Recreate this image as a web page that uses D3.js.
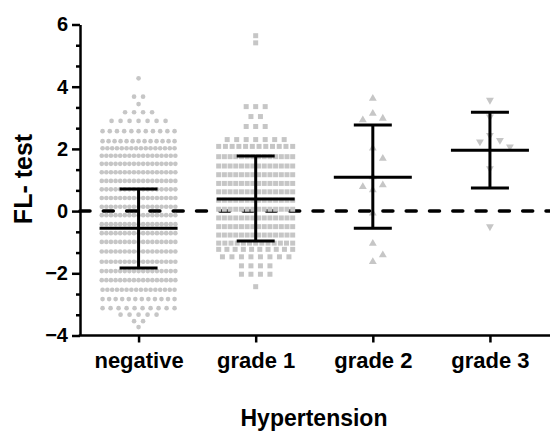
<!DOCTYPE html>
<html>
<head>
<meta charset="utf-8">
<script src="https://cdn.jsdelivr.net/npm/d3@7"></script>
<style>
body { margin: 0; background: #fff; }
svg { display: block; font-family: "Liberation Sans", Arial, sans-serif; }
</style>
</head>
<body>
<svg id="chart" width="550" height="432"></svg>
<script>
var categories = ['negative', 'grade 1', 'grade 2', 'grade 3'];

// big groups: value of the band, dots in it
var negRowValues = [4.27, 3.68, 3.44, 3.18, 2.9, 2.57, 2.25, 2.02, 1.78, 1.52, 1.25, 0.97, 0.7, 0.42, 0.14,
                    -0.13, -0.42, -0.71, -0.99, -1.3, -1.63, -1.93, -2.22, -2.53, -2.83, -3.12, -3.33, -3.54, -3.73];
var negRowCounts = [1, 2, 1, 4, 7, 11, 13, 16, 17, 17, 17, 17, 17, 17, 17,
                    17, 17, 17, 17, 17, 17, 17, 17, 16, 12, 10, 5, 2, 1];

var g1RowValues = [5.64, 5.41, 3.36, 3.04, 2.72, 2.3, 2.08, 1.75, 1.45, 1.17, 0.89, 0.62, 0.35, 0.06,
                   -0.22, -0.5, -0.77, -1.03, -1.23, -1.47, -1.76, -2.03, -2.43];
var g1RowCounts = [1, 1, 3, 2, 3, 7, 12, 14, 14, 14, 14, 14, 14, 14,
                   14, 14, 14, 13, 10, 8, 4, 4, 1];

// small groups, one value per point
var g2Values = [3.62, 3.14, 2.98, 2.93, 2.02, 1.69, 1.1, 0.78, 0.68, 0.84, -0.07, -1.04, -1.41, -1.63];
var g3Values = [3.57, 3.03, 2.44, 2.28, 2.23, 2.07, 1.37, -0.5];

// mean and SD as drawn
var means = [-0.55, 0.39, 1.09, 1.96];
var sdLow = [-1.83, -0.96, -0.55, 0.74];
var sdHigh = [0.71, 1.77, 2.77, 3.18];

var yTicks = [-4, -2, 0, 2, 4, 6];
var yMinorTicks = [-10 / 3, -8 / 3, -4 / 3, -2 / 3, 2 / 3, 4 / 3, 8 / 3, 10 / 3, 14 / 3, 16 / 3];

var svg = d3.select('#chart');
var x = d3.scalePoint().domain(categories).range([80, 548.5]).padding(0.5);
var y = d3.scaleLinear().domain([-4, 6]).range([335.5, 24.5]);
var grey = '#c6c6c6';

function rowPoints(vals, counts, minStep, maxStep, maxWidth) {
  var pts = [];
  vals.forEach(function(v, i) {
    var n = counts[i];
    var step = n > 1 ? Math.max(minStep, Math.min(maxStep, maxWidth / (n - 1))) : 0;
    for (var k = 0; k < n; k++) pts.push({ v: v, dx: (k - (n - 1) / 2) * step });
  });
  return pts;
}

function dodgePoints(vals, step, gapY) {
  var placed = [];
  vals.slice().sort(d3.descending).forEach(function(v) {
    for (var k = 0; k < 50; k++) {
      var dx = k === 0 ? 0 : (k % 2 ? 1 : -1) * Math.ceil(k / 2) * step;
      var hit = placed.some(p => Math.abs(p.dx - dx) < step * 0.9 && Math.abs(y(p.v) - y(v)) < gapY);
      if (!hit) { placed.push({ v: v, dx: dx }); break; }
    }
  });
  return placed;
}

// dashed zero line sits under the dots
svg.append('line')
   .attr('x1', 80).attr('x2', 550)
   .attr('y1', y(0)).attr('y2', y(0))
   .attr('stroke', '#000').attr('stroke-width', 3.5)
   .attr('stroke-linecap', 'round')
   .attr('stroke-dasharray', '10,13.3');

var groups = [
  { pts: rowPoints(negRowValues, negRowCounts, 4.6, 9, 72), sym: d3.symbolCircle, size: 17, rot: 0 },
  { pts: rowPoints(g1RowValues, g1RowCounts, 5.3, 9.5, 74), sym: d3.symbolSquare, size: 25, rot: 0 },
  { pts: dodgePoints(g2Values, 10, 13), sym: d3.symbolTriangle, size: 27, rot: 0 },
  { pts: dodgePoints(g3Values, 10, 13), sym: d3.symbolTriangle, size: 27, rot: 180 }
];

groups.forEach(function(g, i) {
  var cx = x(categories[i]);
  svg.append('g').selectAll('path').data(g.pts).enter().append('path')
     .attr('d', d3.symbol().type(g.sym).size(g.size))
     .attr('transform', d => `translate(${cx + d.dx},${y(d.v)}) rotate(${g.rot})`)
     .attr('fill', grey);
});

// mean +/- SD
var bars = svg.append('g').attr('stroke', '#000').attr('stroke-width', 3);
categories.forEach(function(c, i) {
  var cx = x(c);
  bars.append('line').attr('x1', cx).attr('x2', cx).attr('y1', y(sdLow[i])).attr('y2', y(sdHigh[i]));
  bars.append('line').attr('x1', cx - 19).attr('x2', cx + 19).attr('y1', y(sdLow[i])).attr('y2', y(sdLow[i]));
  bars.append('line').attr('x1', cx - 19).attr('x2', cx + 19).attr('y1', y(sdHigh[i])).attr('y2', y(sdHigh[i]));
  bars.append('line').attr('x1', cx - 39).attr('x2', cx + 39).attr('y1', y(means[i])).attr('y2', y(means[i]));
});

// axes
var yAxis = svg.append('g').attr('transform', 'translate(80,0)')
               .call(d3.axisLeft(y).tickValues(yTicks).tickSize(8).tickSizeOuter(0).tickPadding(4));
svg.append('g').attr('transform', 'translate(80,0)')
   .call(d3.axisLeft(y).tickValues(yMinorTicks).tickSize(4).tickSizeOuter(0).tickFormat(''))
   .select('.domain').remove();
svg.selectAll('.tick line').attr('stroke-width', 2.5);
yAxis.select('.domain').attr('stroke-width', 2.5);
yAxis.selectAll('text').attr('font-size', 20).attr('font-weight', 'bold').attr('fill', '#000');

var xAxis = svg.append('g').attr('transform', 'translate(0,335.5)')
               .call(d3.axisBottom(x).tickSize(7).tickSizeOuter(0));
xAxis.select('.domain').remove();
xAxis.selectAll('line').attr('stroke-width', 2.5);
xAxis.selectAll('text').attr('font-size', 22).attr('font-weight', 'bold').attr('fill', '#000')
     .attr('y', 32).attr('dy', 0);
svg.append('line').attr('x1', 78.75).attr('x2', 550).attr('y1', 335.5).attr('y2', 335.5)
   .attr('stroke', '#000').attr('stroke-width', 2.5);

svg.append('text')
   .attr('transform', 'translate(32,179) rotate(-90)')
   .attr('text-anchor', 'middle')
   .attr('font-size', 25).attr('font-weight', 'bold')
   .text('FL- test');

svg.append('text')
   .attr('x', 314).attr('y', 426)
   .attr('text-anchor', 'middle')
   .attr('font-size', 23).attr('font-weight', 'bold')
   .text('Hypertension');
</script>
</body>
</html>
